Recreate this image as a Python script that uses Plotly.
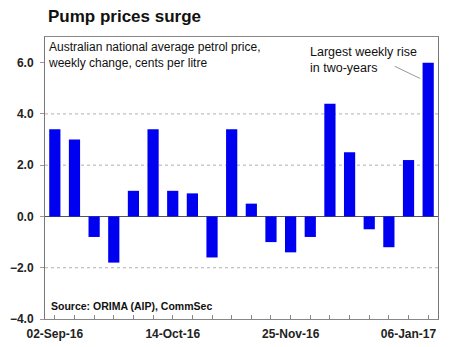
import pandas as pd
import plotly.graph_objects as go

# Weekly change in the national average petrol price (cents per litre)
weeks = pd.date_range("2016-09-02", periods=20, freq="7D")
weekly_change = [3.4, 3.0, -0.8, -1.8, 1.0, 3.4, 1.0, 0.9, -1.6, 3.4,
                 0.5, -1.0, -1.4, -0.8, 4.4, 2.5, -0.5, -1.2, 2.2, 6.0]

y_ticks = [-4, -2, 0, 2, 4, 6]
grid_levels = [-2, 2, 4]

title_text = "Pump prices surge"
subtitle_text = "Australian national average petrol price,<br>weekly change, cents per litre"
callout_text = "Largest weekly rise<br>in two-years"
source_text = "Source: ORIMA (AIP), CommSec"

FONT = "Arial, Liberation Sans, sans-serif"
half_week = pd.Timedelta(days=3.5)

fig = go.Figure(
    go.Bar(
        x=weeks,
        y=weekly_change,
        marker=dict(color="#0000f0", line=dict(width=0)),
    )
)

# dotted horizontal reference lines
for level in grid_levels:
    fig.add_shape(
        type="line", xref="paper", x0=0, x1=1, yref="y", y0=level, y1=level,
        line=dict(color="#b0b0b0", width=1, dash="dot"), layer="below",
    )

fig.update_layout(
    width=452,
    height=347,
    margin=dict(l=45, r=14, t=37, b=28),
    paper_bgcolor="white",
    plot_bgcolor="white",
    showlegend=False,
    bargap=0.43,
    font=dict(family=FONT, color="#111111"),
    xaxis=dict(
        type="date",
        automargin=False,
        range=[weeks[0] - half_week, weeks[-1] + half_week],
        tick0=weeks[0],
        dtick=6 * 7 * 86400000,
        tickformat="%d-%b-%y",
        ticks="inside",
        ticklen=4,
        tickcolor="#888888",
        ticklabelstandoff=4,
        minor=dict(dtick=7 * 86400000, tick0=weeks[0], ticks="inside",
                   ticklen=4, tickcolor="#888888", showgrid=False),
        tickfont=dict(size=12, weight="bold", color="#222222"),
        showgrid=False,
        showline=True,
        linecolor="#888888",
        linewidth=1,
        mirror=True,
    ),
    yaxis=dict(
        automargin=False,
        range=[-4, 7],
        tickvals=y_ticks,
        tickformat=".1f",
        ticks="outside",
        ticklen=4,
        tickcolor="#999999",
        ticklabelstandoff=4,
        tickfont=dict(size=12, weight="bold", color="#222222"),
        showgrid=False,
        zeroline=True,
        zerolinecolor="#555555",
        zerolinewidth=1,
        showline=True,
        linecolor="#777777",
        linewidth=1,
        mirror=True,
    ),
    annotations=[
        dict(text=title_text, xref="paper", yref="paper", x=0, y=1,
             xshift=1, yshift=32, xanchor="left", yanchor="top",
             showarrow=False, font=dict(size=17, weight="bold", color="#111111")),
        dict(text=subtitle_text, xref="paper", yref="paper", x=0, y=1,
             xshift=1, yshift=-1, xanchor="left", yanchor="top", align="left",
             showarrow=False, font=dict(size=12, color="#111111")),
        dict(text=callout_text, xref="paper", yref="paper", x=0.67, y=1,
             yshift=-6, xanchor="left", yanchor="top", align="left",
             showarrow=False, font=dict(size=12.5, color="#111111")),
        dict(text="", x=weeks[-1], y=5.38, xshift=-8, showarrow=True,
             arrowhead=0, arrowwidth=1, arrowcolor="#999999",
             axref="pixel", ayref="pixel", ax=-27, ay=-13, standoff=0),
        dict(text=source_text, xref="paper", yref="paper", x=0, y=0,
             xshift=4, yshift=5, xanchor="left", yanchor="bottom",
             showarrow=False, font=dict(size=10.5, weight="bold", color="#111111")),
    ],
)

fig.write_html("out.html")
